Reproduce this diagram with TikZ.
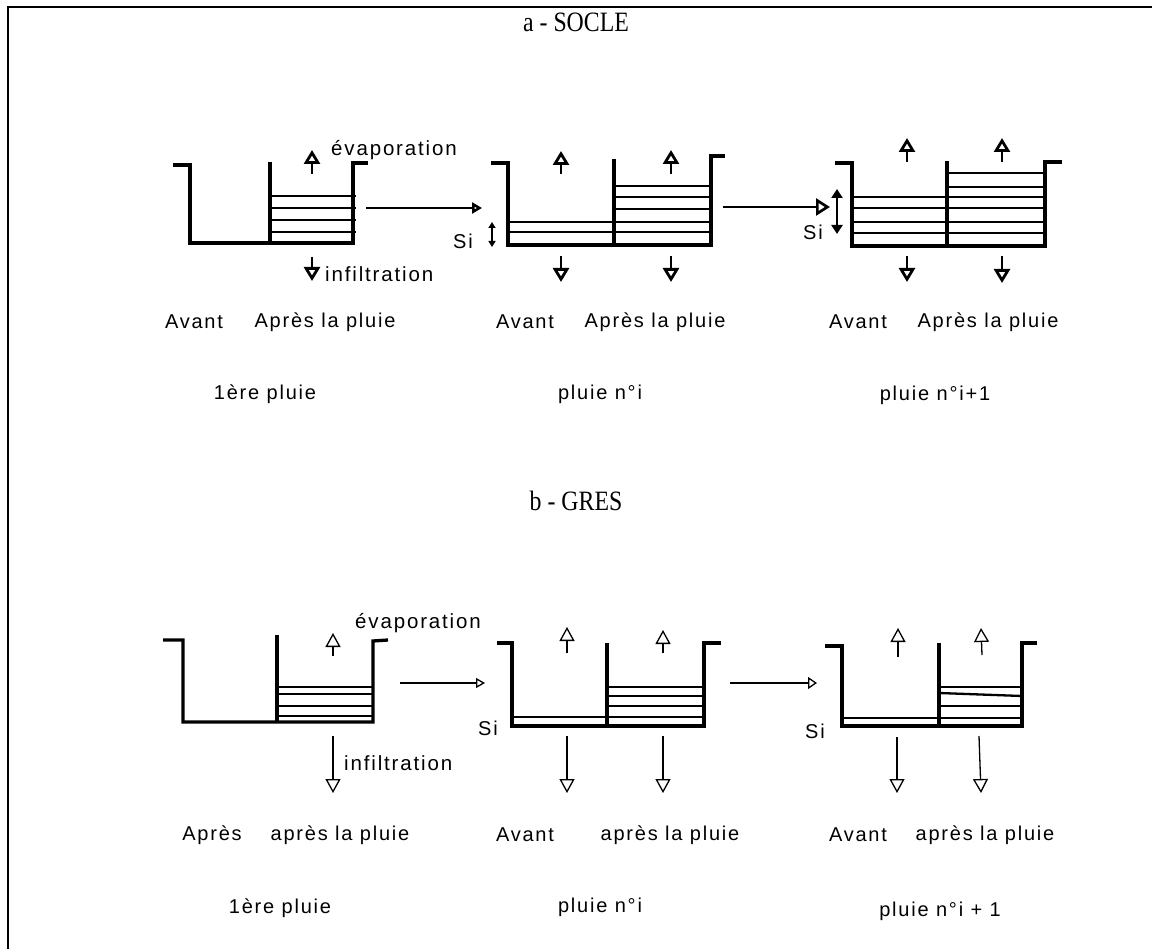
\documentclass[tikz,border=0pt]{standalone}
\usepackage{fontspec}
\setmainfont{Liberation Sans}
\newfontfamily\lbl[LetterSpace=9]{Liberation Sans}
\newfontfamily\ttl{Liberation Serif}
\usetikzlibrary{arrows.meta}
\begin{document}
\begin{tikzpicture}[x=1pt,y=-1pt,
 wall/.style={line width=3.3pt,line join=miter},
 hatch/.style={line width=2.7pt},
 thinhatch/.style={line width=2.3pt},
 upa/.style={line width=2.8pt,-{Triangle[open,length=14pt,width=16pt]}},
 thina/.style={line width=1.3pt,-{Triangle[open,length=14pt,width=15pt]}},
 lab/.style={font=\fontsize{20}{24}\selectfont\lbl, inner sep=0pt},
 labw/.style={font=\fontsize{20.5}{24}\selectfont\lbl, inner sep=0pt},
 ttlst/.style={font=\fontsize{28}{32}\selectfont\ttl, inner sep=0pt, xscale=0.85}]
\useasboundingbox (0,0) rectangle (1152,949);
\fill[white] (0,0) rectangle (1152,949);
% frame
\draw[line width=2.5pt] (8,949) -- (8,7) -- (1152,7);

% titles
\node[ttlst] (ta) at (576,22) {a - SOCLE};
\node[ttlst] (tb) at (576,501) {b - GRES};

%%%%%%%% TOP SECTION %%%%%%%%
% container 1
\draw[wall] (173,165) -- (190,165) -- (190,243) -- (353,243) -- (353,163) -- (368,163);
\draw[wall] (270,162) -- (270,243);
\foreach \y in {196,208,220,232} \draw[hatch] (270,\y) -- (356,\y);
% container 2
\draw[wall] (491,163) -- (508,163) -- (508,245) -- (711,245) -- (711,156) -- (725,156);
\draw[wall] (614,159) -- (614,245);
\foreach \y in {222,232} \draw[hatch] (508,\y) -- (614,\y);
\foreach \y in {186,197,209,222,232} \draw[hatch] (614,\y) -- (711,\y);
% container 3
\draw[wall] (835,163) -- (852,163) -- (852,246) -- (1045,246) -- (1045,162) -- (1062,162);
\draw[wall] (947,161) -- (947,246);
\foreach \y in {197,208,222,233} \draw[hatch] (852,\y) -- (947,\y);
\foreach \y in {173,187,197,208,222,233} \draw[hatch] (947,\y) -- (1045,\y);

% vertical arrows top
\foreach \n/\x/\a/\b in {e1/312/174/150, i1/312/257/281,
   e2/561/174/151, e3/671/174/150, i2/561/256/282, i3/671/256/282,
   e4/907/162/138, e5/1002/162/138, i4/907/256/282, i5/1002/256/283} {
  \coordinate (\n s) at (\x,\a); \coordinate (\n t) at (\x,\b);
  \draw[upa] (\n s) -- (\n t);
}
% horizontal arrows top
\coordinate (h1s) at (366,208); \coordinate (h1t) at (482,208);
\draw[line width=2.7pt,-{Triangle[open,length=10pt,width=11pt]}] (h1s) -- (h1t);
\coordinate (h2s) at (723,207); \coordinate (h2t) at (830,207);
\draw[line width=2.7pt,-{Triangle[open,length=14pt,width=17pt]}] (h2s) -- (h2t);
% Si arrows top
\coordinate (s1a) at (492,222); \coordinate (s1b) at (492,247);
\draw[line width=2.5pt,{Triangle[length=6pt,width=7pt]}-{Triangle[length=6pt,width=7pt]}] (s1a) -- (s1b);
\coordinate (s2a) at (837,189); \coordinate (s2b) at (837,234);
\draw[line width=2.7pt,{Triangle[length=9pt,width=11pt]}-{Triangle[length=9pt,width=11pt]}] (s2a) -- (s2b);

% labels top
\node[labw,anchor=west] (evA) at (331,150) {évaporation};
\node[labw,anchor=west] (inA) at (325,274) {infiltration};
\node[lab] (siA) at (463,241) {Si};
\node[lab] (siB) at (813,232) {Si};
\node[lab] (av1) at (194,322) {Avant};
\node[lab] (ap1) at (325,322) {Après la pluie};
\node[lab] (av2) at (525,322) {Avant};
\node[lab] (ap2) at (655,322) {Après la pluie};
\node[lab] (av3) at (858,322) {Avant};
\node[lab] (ap3) at (988,322) {Après la pluie};
\node[lab] (p1) at (265,394) {1ère pluie};
\node[lab] (p2) at (600,394) {pluie n°i};
\node[lab] (p3) at (935,395) {pluie n°i+1};

%%%%%%%% BOTTOM SECTION %%%%%%%%
% container 4
\draw[wall] (163,640) -- (183,640) -- (183,722) -- (373,722) -- (373,641) -- (388,640);
\draw[wall] (277,635) -- (277,722);
\foreach \y in {687,694,706,716} \draw[thinhatch] (277,\y) -- (373,\y);
% container 5
\draw[wall] (497,643) -- (512,643) -- (512,726) -- (704,726) -- (704,643) -- (721,643);
\draw[wall] (607,643) -- (607,726);
\draw[thinhatch] (512,717) -- (607,717);
\foreach \y in {687,696,706,717} \draw[thinhatch] (607,\y) -- (704,\y);
% container 6
\draw[wall] (825,646) -- (842,646) -- (842,726) -- (1022,726) -- (1022,643) -- (1037,643);
\draw[wall] (939,643) -- (939,726);
\draw[thinhatch] (842,718) -- (939,718);
\foreach \y in {687,706,718} \draw[thinhatch] (939,\y) -- (1022,\y);
\draw[thinhatch] (939,693) -- (1022,696);

% vertical arrows bottom
\foreach \n/\xa/\a/\xb/\b in {f1/333/656/333/633, j1/333/736/333/793,
   f2/567/653/567/627, f3/663/653/663/630, j2/567/736/567/793, j3/663/736/663/793,
   f4/898/657/898/628, f5/982/655/981/628, j4/897/737/897/793, j5/979/736/981/793} {
  \coordinate (\n s) at (\xa,\a); \coordinate (\n t) at (\xb,\b);
  \draw[thina] (\n s) -- (\n t);
}
% horizontal arrows bottom
\coordinate (h3s) at (400,683); \coordinate (h3t) at (485,683);
\draw[line width=1.3pt,-{Triangle[open,length=9pt,width=10pt]}] (h3s) -- (h3t);
\coordinate (h4s) at (730,683); \coordinate (h4t) at (817,683);
\draw[line width=1.3pt,-{Triangle[open,length=9pt,width=12pt]}] (h4s) -- (h4t);

% labels bottom
\node[labw,anchor=west] (evB) at (355,623) {évaporation};
\node[labw,anchor=west] (inB) at (344,763) {infiltration};
\node[lab] (siC) at (488,728) {Si};
\node[lab] (siD) at (815,731) {Si};
\node[lab] (av4) at (212,835) {Après};
\node[lab] (ap4) at (340,835) {après la pluie};
\node[lab] (av5) at (525,835) {Avant};
\node[lab] (ap5) at (670,835) {après la pluie};
\node[lab] (av6) at (858,835) {Avant};
\node[lab] (ap6) at (985,835) {après la pluie};
\node[lab] (p4) at (280,908) {1ère pluie};
\node[lab] (p5) at (600,907) {pluie n°i};
\node[lab] (p6) at (940,911) {pluie n°i + 1};
\end{tikzpicture}
\end{document}
